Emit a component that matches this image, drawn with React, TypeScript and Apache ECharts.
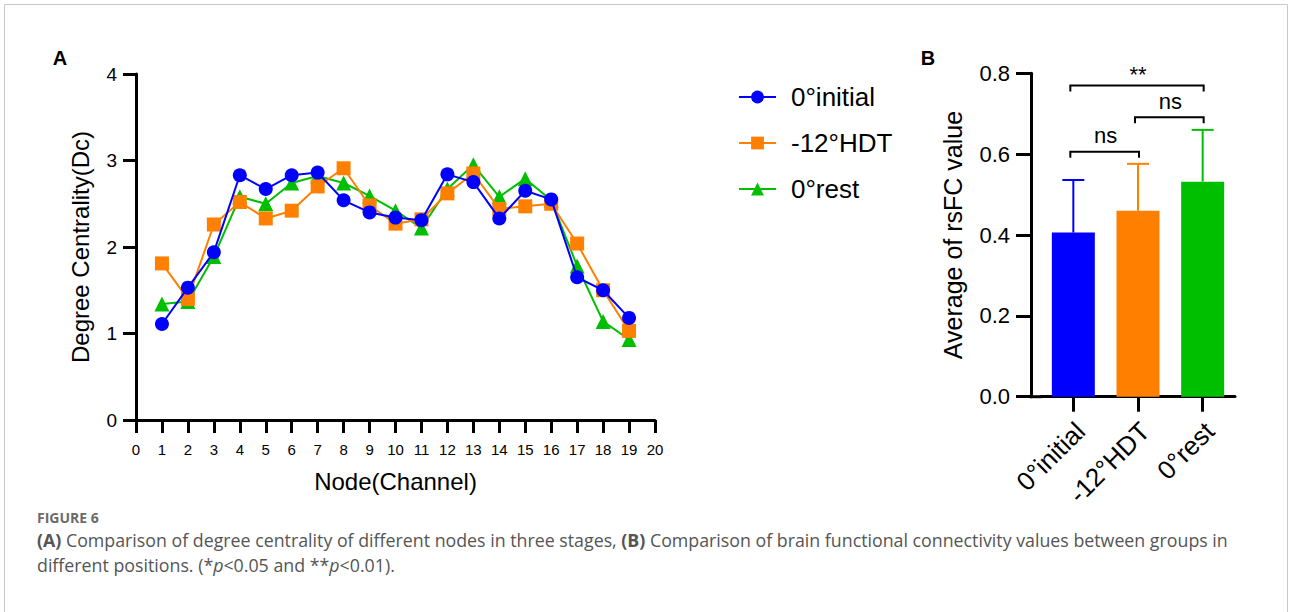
import React, { useEffect, useRef } from 'react';
import * as echarts from 'echarts';

// ---------- Panel A data ----------
const nodes = [1, 2, 3, 4, 5, 6, 7, 8, 9, 10, 11, 12, 13, 14, 15, 16, 17, 18, 19];
const initialDc = [1.11, 1.53, 1.94, 2.83, 2.67, 2.83, 2.86, 2.54, 2.40, 2.34, 2.31, 2.84, 2.75, 2.33, 2.65, 2.55, 1.65, 1.50, 1.18];
const hdtDc = [1.81, 1.40, 2.26, 2.52, 2.33, 2.42, 2.70, 2.91, 2.48, 2.27, 2.32, 2.62, 2.85, 2.44, 2.47, 2.50, 2.04, 1.50, 1.03];
const restDc = [1.34, 1.37, 1.89, 2.58, 2.50, 2.74, 2.82, 2.74, 2.59, 2.42, 2.22, 2.67, 2.95, 2.58, 2.79, 2.54, 1.78, 1.14, 0.93];
const seriesNames = ['0°initial', '-12°HDT', '0°rest'];

// ---------- Panel B data ----------
const groups = ['0°initial', '-12°HDT', '0°rest'];
const means = [0.406, 0.46, 0.532];
const sds = [0.13, 0.116, 0.128];
// [from group index, to group index, bracket height, label]
const comparisons: [number, number, number, string][] = [
  [0, 2, 0.77, '**'],
  [1, 2, 0.691, 'ns'],
  [0, 1, 0.606, 'ns'],
];

const BLUE = '#0000ff';
const ORANGE = '#ff8000';
const GREEN = '#00bf00';
const colors = [BLUE, ORANGE, GREEN];
const FONT = '"Liberation Sans", Arial, sans-serif';
const CAP_FONT = '"Open Sans", "Noto Sans", sans-serif';

function buildOption() {
  const axisLine = { show: true, lineStyle: { color: '#000', width: 3 } };
  const lineSeries = (name: string, vals: number[], color: string, symbol: string, z: number) => ({
    type: 'line',
    name,
    xAxisIndex: 0,
    yAxisIndex: 0,
    data: nodes.map((n, i) => [n, vals[i]]),
    symbol,
    symbolSize: symbol === 'triangle' ? 15 : 14,
    itemStyle: { color },
    lineStyle: { color, width: 2 },
    z,
  });

  return {
    animation: false,
    backgroundColor: '#fff',
    textStyle: { fontFamily: FONT },
    legend: {
      data: seriesNames,
      orient: 'vertical',
      left: 733,
      top: 77,
      itemWidth: 37,
      itemHeight: 16,
      itemGap: 16,
      textStyle: { fontSize: 26, color: '#000', fontFamily: FONT, lineHeight: 30, padding: [0, 0, 0, 10] },
    },
    grid: [
      { left: 136, top: 74, width: 519, height: 346 },
      { left: 1041, top: 73.3, width: 194, height: 323.4 },
    ],
    xAxis: [
      {
        type: 'value',
        gridIndex: 0,
        min: 0,
        max: 20,
        interval: 1,
        splitLine: { show: false },
        axisLine,
        axisTick: { show: true, length: 13, lineStyle: { width: 3, color: '#000' } },
        axisLabel: { fontSize: 15, color: '#000', margin: 22 },
        name: 'Node(Channel)',
        nameLocation: 'middle',
        nameGap: 49,
        nameTextStyle: { fontSize: 24, color: '#000' },
      },
      {
        type: 'category',
        gridIndex: 1,
        data: groups,
        axisLine,
        axisTick: { show: true, alignWithLabel: true, length: 15, lineStyle: { width: 3, color: '#000' } },
        axisLabel: { fontSize: 26, color: '#000', rotate: 45, margin: 23, interval: 0, verticalAlign: 'top', lineHeight: 20 },
      },
    ],
    yAxis: [
      {
        type: 'value',
        gridIndex: 0,
        min: 0,
        max: 4,
        interval: 1,
        splitLine: { show: false },
        axisLine,
        axisTick: { show: true, length: 13, lineStyle: { width: 3, color: '#000' } },
        axisLabel: { fontSize: 19, color: '#000', margin: 19 },
        name: 'Degree Centrality(Dc)',
        nameLocation: 'middle',
        nameGap: 44,
        nameTextStyle: { fontSize: 24, color: '#000' },
      },
      {
        type: 'value',
        gridIndex: 1,
        offset: 10,
        min: 0,
        max: 0.8,
        interval: 0.2,
        splitLine: { show: false },
        axisLine,
        axisTick: { show: true, length: 15, lineStyle: { width: 3, color: '#000' } },
        axisLabel: { fontSize: 22, color: '#000', margin: 21, formatter: (v: number) => v.toFixed(1) },
        name: 'Average of rsFC value',
        nameLocation: 'middle',
        nameGap: 66,
        nameTextStyle: { fontSize: 25, color: '#000' },
      },
    ],
    series: [
      lineSeries(seriesNames[2], restDc, GREEN, 'triangle', 2),
      lineSeries(seriesNames[1], hdtDc, ORANGE, 'rect', 3),
      lineSeries(seriesNames[0], initialDc, BLUE, 'circle', 4),
      {
        type: 'bar',
        xAxisIndex: 1,
        yAxisIndex: 1,
        barWidth: 43,
        data: means.map((m, i) => ({ value: m, itemStyle: { color: colors[i] } })),
        z: 2,
      },
      {
        type: 'custom',
        xAxisIndex: 1,
        yAxisIndex: 1,
        z: 3,
        data: means.map((m, i) => [i, m, sds[i]]),
        encode: { x: 0, y: 1 },
        renderItem: (params: any, api: any) => {
          const idx = api.value(0);
          const m = api.value(1);
          const sd = api.value(2);
          const base = api.coord([idx, m]);
          const top = api.coord([idx, m + sd]);
          const color = colors[params.dataIndex];
          const style = { stroke: color, lineWidth: 2, fill: null };
          return {
            type: 'group',
            children: [
              { type: 'line', shape: { x1: base[0], y1: base[1], x2: top[0], y2: top[1] }, style },
              { type: 'line', shape: { x1: top[0] - 11, y1: top[1], x2: top[0] + 11, y2: top[1] }, style },
            ],
          };
        },
      },
      {
        type: 'custom',
        xAxisIndex: 1,
        yAxisIndex: 1,
        z: 4,
        data: comparisons.map((c) => [c[0], c[2], c[1]]),
        encode: { x: 0, y: 1 },
        renderItem: (params: any, api: any) => {
          const a = api.coord([api.value(0), api.value(1)]);
          const b = api.coord([api.value(2), api.value(1)]);
          const label = comparisons[params.dataIndex][3];
          const tip = 6;
          return {
            type: 'group',
            children: [
              {
                type: 'polyline',
                shape: { points: [[a[0] - 3, a[1] + tip], [a[0] - 3, a[1]], [b[0] + 1, b[1]], [b[0] + 1, b[1] + tip]] },
                style: { stroke: '#000', lineWidth: 2, fill: null },
              },
              {
                type: 'text',
                x: (a[0] + b[0]) / 2,
                y: a[1] - (label === '**' ? 0 : 5),
                style: {
                  text: label,
                  fontSize: 22,
                  fontFamily: FONT,
                  fill: '#000',
                  align: 'center',
                  verticalAlign: 'bottom',
                },
              },
            ],
          };
        },
      },
    ],
    graphic: [
      { type: 'rect', shape: { x: 4.5, y: 4.5, width: 1283, height: 700 }, style: { fill: null, stroke: '#c8c8c8', lineWidth: 1 }, silent: true },
      { type: 'line', shape: { x1: 1029.5, y1: 396.7, x2: 1042, y2: 396.7 }, style: { stroke: '#000', lineWidth: 3 } },
      { type: 'text', x: 60, y: 58, style: { text: 'A', fontSize: 20, fontWeight: 'bold', fontFamily: FONT, fill: '#000', align: 'center', verticalAlign: 'middle' } },
      { type: 'text', x: 928, y: 58, style: { text: 'B', fontSize: 20, fontWeight: 'bold', fontFamily: FONT, fill: '#000', align: 'center', verticalAlign: 'middle' } },
      { type: 'text', x: 37, y: 517, style: { text: 'FIGURE 6', fontSize: 14, fontWeight: 'bold', fontFamily: CAP_FONT, fill: '#6b6b6b', verticalAlign: 'middle' } },
      {
        type: 'text',
        x: 37,
        y: 540,
        style: {
          text: '{b|(A)} Comparison of degree centrality of different nodes in three stages, {b|(B)} Comparison of brain functional connectivity values between groups in',
          fontSize: 17.8,
          fontFamily: CAP_FONT,
          fill: '#555',
          verticalAlign: 'middle',
          rich: { b: { fontWeight: 'bold', fontSize: 17.8, fontFamily: CAP_FONT, fill: '#555' } },
        },
      },
      {
        type: 'text',
        x: 37,
        y: 565,
        style: {
          text: 'different positions. (*{i|p}<0.05 and **{i|p}<0.01).',
          fontSize: 17.8,
          fontFamily: CAP_FONT,
          fill: '#555',
          verticalAlign: 'middle',
          rich: { i: { fontStyle: 'italic', fontSize: 17.8, fontFamily: CAP_FONT, fill: '#555' } },
        },
      },
    ],
  };
}

export default function App() {
  const ref = useRef<HTMLDivElement>(null);
  useEffect(() => {
    document.body.style.margin = '0';
    const chart = echarts.init(ref.current!, null, { renderer: 'svg' });
    chart.setOption(buildOption() as any);
    return () => chart.dispose();
  }, []);
  return <div ref={ref} style={{ width: 1290, height: 612 }} />;
}
